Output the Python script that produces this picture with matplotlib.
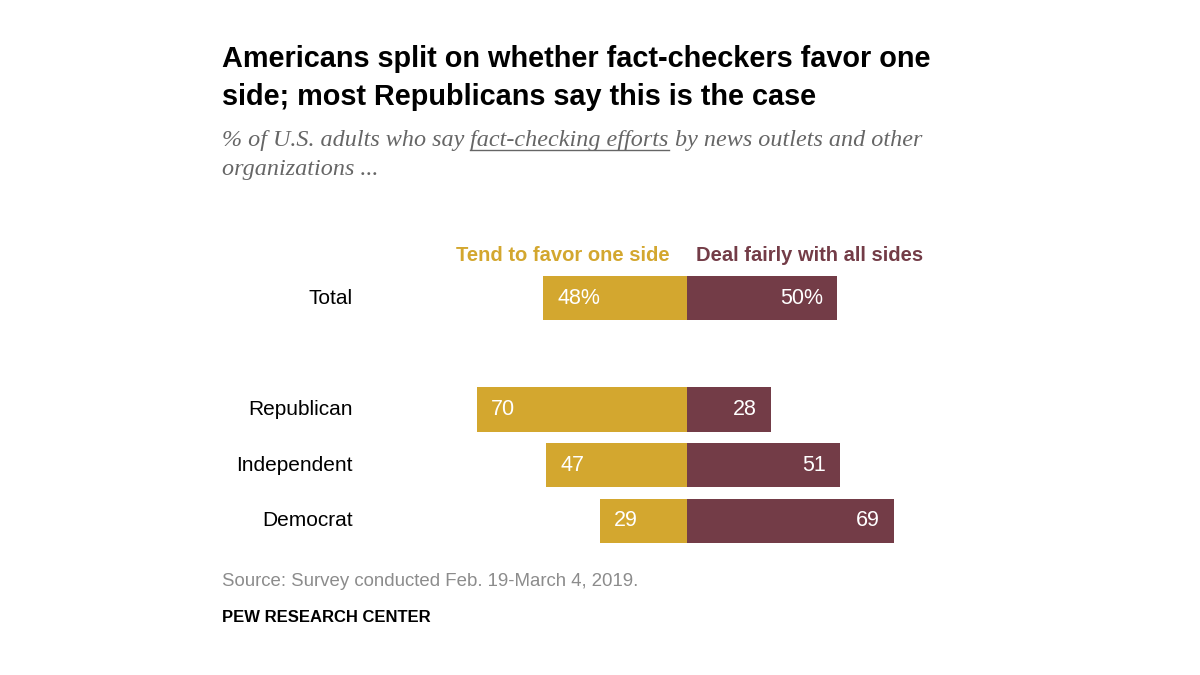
import numpy as np
import matplotlib
matplotlib.use("Agg")
import matplotlib.pyplot as plt

# Données
groupes = ["Total", "Republican", "Independent", "Democrat"]
pos_y = [0, 2, 3, 4]
favor = [48, 70, 47, 29]
fair = [50, 28, 51, 69]
lab_favor = ["48%", "70", "47", "29"]
lab_fair = ["50%", "28", "51", "69"]

or_c = "#D3A72F"
bord = "#733C47"

plt.rcParams['font.family'] = ['Liberation Sans', 'DejaVu Sans']

fig = plt.figure(figsize=(12, 6.75), dpi=100)

# axe : x = 0 au pixel 687, 3 px par point ; y = 0 au pixel 298, 55.75 px par rang
x0, x1 = 200, 1000
ax = fig.add_axes([x0/1200, (675-576.75)/675, (x1-x0)/1200, 334.5/675])
ax.set_xlim((x0-687)/3, (x1-687)/3)
ax.set_ylim(5, -1)
ax.axis('off')

ax.barh(pos_y, [-v for v in favor], height=0.79, color=or_c)
ax.barh(pos_y, fair, height=0.79, color=bord)

for y, g, f, d, lf, ld in zip(pos_y, groupes, favor, fair, lab_favor, lab_fair):
    ax.text(-111.5, y, g, ha='right', va='center', fontsize=15, color='black')
    ax.text(-f + 4.7, y, lf, ha='left', va='center', fontsize=15.5, color='white')
    ax.text(d - 4.7, y, ld, ha='right', va='center', fontsize=15.5, color='white')

ax.text(-5.7, -0.76, "Tend to favor one side", ha='right', va='center',
        fontsize=14.5, fontweight='bold', color=or_c)
ax.text(3, -0.76, "Deal fairly with all sides", ha='left', va='center',
        fontsize=14.5, fontweight='bold', color=bord)

# Titre
fig.text(222/1200, 1-45/675, "Americans split on whether fact-checkers favor one\nside; most Republicans say this is the case",
         ha='left', va='top', fontsize=20.8, fontweight='bold',
         family=['Liberation Sans', 'DejaVu Sans'], linespacing=1.45)

# Sous-titre avec soulignement
sous = dict(fontsize=17.4, style='italic', color='#666666', family=['Liberation Serif', 'DejaVu Serif'])
r = fig.canvas.get_renderer()
yb = 1 - 146/675
t1 = fig.text(222/1200, yb, "% of U.S. adults who say ", ha='left', va='baseline', **sous)
bb = t1.get_window_extent(r)
t2 = fig.text(bb.x1/1200, yb, "fact-checking efforts", ha='left', va='baseline', **sous)
bb2 = t2.get_window_extent(r)
fig.add_artist(plt.Line2D([bb2.x0/1200, bb2.x1/1200], [yb-4/675, yb-4/675],
                          color='#666666', lw=1))
fig.text(bb2.x1/1200, yb, " by news outlets and other", ha='left', va='baseline', **sous)
fig.text(222/1200, 1-175/675, "organizations ...", ha='left', va='baseline', **sous)

# Source
fig.text(222/1200, 1-581/675, "Source: Survey conducted Feb. 19-March 4, 2019.",
         ha='left', va='center', fontsize=13.4, color='#8C8C8C')
fig.text(222/1200, 1-617/675, "PEW RESEARCH CENTER", ha='left', va='center',
         fontsize=12, fontweight='bold', color='black')

fig.savefig("out.png", dpi=100)
